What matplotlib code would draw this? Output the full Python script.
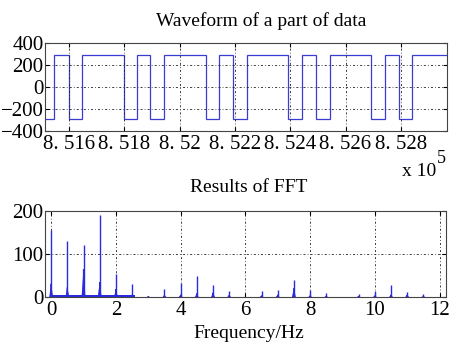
import matplotlib
matplotlib.use("Agg")
import matplotlib.pyplot as plt
import numpy as np

# ---------------- data ----------------
# square-wave segment edges (sample index) and levels
wave_edges = [851513, 851547, 851598, 851646, 851799, 851845, 851893, 851945,
              852094, 852142, 852194, 852243, 852393, 852441, 852493, 852544,
              852692, 852743, 852793, 852842, 852967]
wave_levels = [-290, 290, -290, 290, -290, 290, -290, 290, -290, 290,
               -290, 290, -290, 290, -290, 290, -290, 290, -290, 290]
wave_xticks = [851600, 851800, 852000, 852200, 852400, 852600, 852800]
wave_xticklabels = ["8. 516", "8. 518", "8. 52", "8. 522", "8. 524", "8. 526", "8. 528"]
wave_yticks = [-400, -200, 0, 200, 400]

# FFT peaks
peak_freq = [0.0, 0.5, 1.0, 1.5, 2.0, 2.5, 3.0, 3.5, 4.0, 4.5, 5.0, 5.5, 6.5, 7.0,
             7.5, 8.0, 8.5, 9.5, 10.0, 10.5, 11.0, 11.5]
peak_amp = [155, 130, 122, 191, 54, 31, 2, 19, 33, 50, 27, 15, 13, 17,
            39, 17, 9, 7, 15, 29, 11, 7]
side_amp = [31, 22, 64, 34, 18, 5, 1, 4, 5, 8, 10, 4, 3, 5,
            20, 3, 2, 2, 3, 5, 5, 2]
floor_freq = [0.0, 2.6]
floor_amp = [4, 4]
fft_xticks = [0, 2, 4, 6, 8, 10, 12]
fft_yticks = [0, 100, 200]

# ---------------- style ----------------
plt.rcParams['font.family'] = ['Liberation Serif', 'DejaVu Serif']
W, H = 449, 348
fig = plt.figure(figsize=(W / 100, H / 100), dpi=100)
fig.patch.set_facecolor('white')

def fbox(l, t, r, b):
    return [l / W, 1 - b / H, (r - l) / W, (b - t) / H]

grid_kw = dict(color='#222222', linestyle=(0, (1, 2.5, 2.5, 2.5)), linewidth=0.6)
tick_fs = 15
blue = '#2a2ae0'

# ---- top axes ----
ax1 = fig.add_axes(fbox(45, 43, 447, 131))
ax1.stairs(wave_levels, wave_edges, baseline=None, color='#3b3bd6', linewidth=0.9)
ax1.set_xlim(wave_edges[0], wave_edges[-1])
ax1.set_ylim(-400, 400)
ax1.set_xticks(wave_xticks)
ax1.set_xticklabels(wave_xticklabels)
ax1.set_yticks(wave_yticks)
ax1.set_yticklabels(['\u2212400', '\u2212200', '0', '200', '400'])
ax1.grid(True, **grid_kw)
ax1.tick_params(direction='in', length=3, labelsize=tick_fs, pad=1,
                top=True, right=True)
ax1.tick_params(axis='x', pad=3)
for s in ax1.spines.values():
    s.set_color('#444444'); s.set_linewidth(0.8)
fig.text(261 / W, 1 - 21 / H, 'Waveform of a part of data', ha='center', va='center', fontsize=14)
fig.text(402 / W, 1 - 171 / H, 'x 10', ha='left', va='center', fontsize=14)
fig.text(437 / W, 1 - 158 / H, '5', ha='left', va='center', fontsize=13)

# ---- bottom axes ----
ax2 = fig.add_axes(fbox(45, 211, 446, 297))
ax2.set_xlim(-0.19, 12.2)
ax2.set_ylim(0, 200)
ax2.fill_between(floor_freq, 0, floor_amp, color=blue, linewidth=0)
hw = 0.06
for f, a, s in zip(peak_freq, peak_amp, side_amp):
    ax2.fill([f - hw, f, f + hw], [0, s, 0], color=blue, linewidth=0)
    ax2.fill([f - 0.012, f, f + 0.012], [0, s, 0], color=blue, linewidth=0.8, edgecolor=blue)
ax2.vlines(peak_freq, 0, peak_amp, color=blue, linewidth=1.0)
ax2.set_xticks(fft_xticks)
ax2.set_yticks(fft_yticks)
ax2.grid(True, **grid_kw)
ax2.tick_params(direction='in', length=3, labelsize=tick_fs, pad=1,
                top=True, right=True)
ax2.tick_params(axis='x', pad=3)
for s in ax2.spines.values():
    s.set_color('#444444'); s.set_linewidth(0.8)
fig.text(249 / W, 1 - 187 / H, 'Results of FFT', ha='center', va='center', fontsize=14)
fig.text(249 / W, 1 - 333 / H, 'Frequency/Hz', ha='center', va='center', fontsize=14)

fig.savefig('out.png', dpi=100, facecolor='white')
